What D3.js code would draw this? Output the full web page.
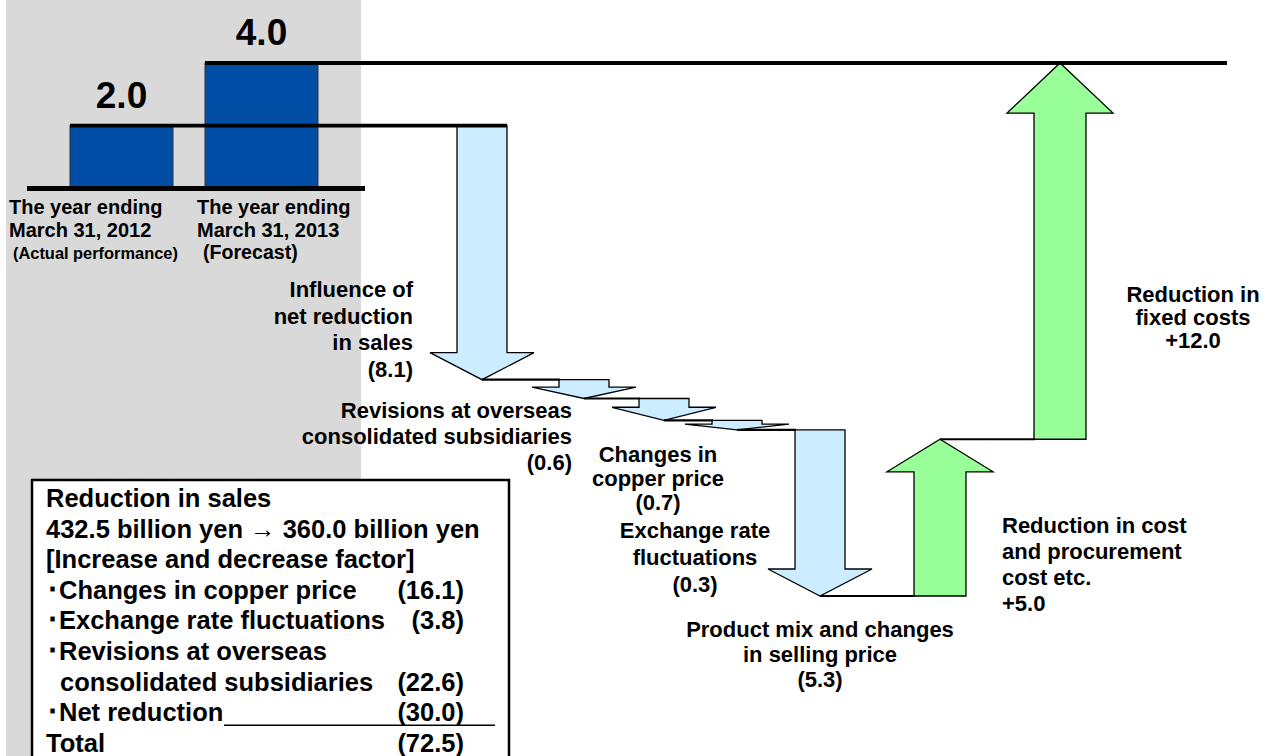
<!DOCTYPE html>
<html><head><meta charset="utf-8">
<script src="https://cdn.jsdelivr.net/npm/d3@7"></script>
<style>
html,body{margin:0;padding:0;background:#fff;}
svg{display:block;}
text{font-family:"Liberation Sans",Arial,sans-serif;font-weight:bold;fill:#000;}
</style></head>
<body>
<svg id="chart" width="1271" height="756"></svg>
<script>
// ---------------- data ----------------
const periods = ["March 31, 2012", "March 31, 2013"];
const periodNotes = ["(Actual performance)", "(Forecast)"];
const periodValues = [2.0, 4.0];

const steps = [
  "Influence of net reduction in sales",
  "Revisions at overseas consolidated subsidiaries",
  "Changes in copper price",
  "Exchange rate fluctuations",
  "Product mix and changes in selling price",
  "Reduction in cost and procurement cost etc.",
  "Reduction in fixed costs"
];
const stepValues = [-8.1, -0.6, -0.7, -0.3, -5.3, 5.0, 12.0];
const stepLabelLines = [
  ["Influence of", "net reduction", "in sales"],
  ["Revisions at overseas", "consolidated subsidiaries"],
  ["Changes in", "copper price"],
  ["Exchange rate", "fluctuations"],
  ["Product mix and changes", "in selling price"],
  ["Reduction in cost", "and procurement", "cost etc."],
  ["Reduction in", "fixed costs"]
];

const salesBefore = 432.5, salesAfter = 360.0;
const salesFactors = ["Changes in copper price", "Exchange rate fluctuations",
  "Revisions at overseas|consolidated subsidiaries", "Net reduction"];
const salesFactorValues = [-16.1, -3.8, -22.6, -30.0];
const salesTotal = -72.5;

// ---------------- layout ----------------
const svg = d3.select("#chart");
const y = d3.scaleLinear().domain([4, -13]).range([63, 596]);
const xStep = d3.scaleOrdinal().domain(steps).range([482, 584, 664, 737, 820, 940, 1060]);
const xBar = d3.scaleOrdinal().domain(periods).range([[70, 173], [205, 318]]);
const fmtNum = d3.format(".1f");
const fmtStep = v => v < 0 ? "(" + fmtNum(-v) + ")" : "+" + fmtNum(v);

const labelLayout = [
  {anchor: "end", x: 413, y: 297, lh: 26.5},
  {anchor: "end", x: 572, y: 418, lh: 26},
  {anchor: "middle", x: 658, y: 462, lh: 24},
  {anchor: "middle", x: 695, y: 538, lh: 27},
  {anchor: "middle", x: 820, y: 637, lh: 25},
  {anchor: "start", x: 1002, y: 533, lh: 26},
  {anchor: "middle", x: 1193, y: 302, lh: 23}
];

// grey panel
svg.append("rect").attr("x", 6).attr("y", 0).attr("width", 355).attr("height", 756).attr("fill", "#d9d9d9");

// bars
periods.forEach((p, i) => {
  const [x0, x1] = xBar(p);
  svg.append("rect").attr("x", x0).attr("y", y(periodValues[i]))
    .attr("width", x1 - x0).attr("height", y(0) - y(periodValues[i]))
    .attr("fill", "#004da6").attr("stroke", "#333").attr("stroke-width", 1);
  svg.append("text").attr("x", (x0 + x1) / 2).attr("y", y(periodValues[i]) - 18)
    .attr("text-anchor", "middle").style("font-size", "37px").text(fmtNum(periodValues[i]));
});

// period labels
const periodLabelX = [9, 197];
periods.forEach((p, i) => {
  svg.append("text").attr("x", periodLabelX[i]).attr("y", 213.5).style("font-size", "20px").text("The year ending");
  svg.append("text").attr("x", periodLabelX[i]).attr("y", 237).style("font-size", "20px").text(p);
  svg.append("text").attr("x", periodLabelX[i] + (i === 0 ? 4 : 6)).attr("y", 259)
    .style("font-size", i === 0 ? "16.4px" : "19.6px").text(periodNotes[i]);
});

// waterfall arrows
let cum = periodValues[0];
const arrows = stepValues.map((v, i) => {
  const a = {name: steps[i], from: cum, to: cum + v, v: v, cx: xStep(steps[i])};
  cum += v;
  return a;
});

function arrowPath(a) {
  const down = a.v < 0;
  const sw = down ? 50 : 52, hw = down ? 104 : 106;
  const y0 = y(a.from), y1 = y(a.to);
  const len = Math.abs(y1 - y0);
  const hh = down ? Math.min(27, len * 0.6) : 20 + len * 0.08;
  const yb = down ? y1 - hh : y1 + hh;
  const c = a.cx;
  return `M${c - sw / 2},${y0}L${c + sw / 2},${y0}L${c + sw / 2},${yb}L${c + hw / 2},${yb}L${c},${y1}L${c - hw / 2},${yb}L${c - sw / 2},${yb}Z`;
}

svg.selectAll("path.arrow").data(arrows).join("path").attr("class", "arrow")
  .attr("d", arrowPath)
  .attr("fill", d => d.v < 0 ? "#ccecff" : "#99ff99")
  .attr("stroke", "#000").attr("stroke-width", 1.3).attr("stroke-linejoin", "miter");

// connectors between arrows
arrows.forEach((a, i) => {
  if (i === arrows.length - 1) return;
  const n = arrows[i + 1];
  const sw = n.v < 0 ? 50 : 52;
  svg.append("line").attr("x1", a.cx).attr("x2", n.cx - sw / 2 + 1)
    .attr("y1", y(a.to)).attr("y2", y(a.to)).attr("stroke", "#000").attr("stroke-width", 2.2);
});

// start level line, end level line, baseline
svg.append("line").attr("x1", xBar(periods[0])[0]).attr("x2", arrows[0].cx + 25)
  .attr("y1", y(periodValues[0])).attr("y2", y(periodValues[0])).attr("stroke", "#000").attr("stroke-width", 3.8);
svg.append("line").attr("x1", xBar(periods[1])[0]).attr("x2", 1227)
  .attr("y1", y(periodValues[1])).attr("y2", y(periodValues[1])).attr("stroke", "#000").attr("stroke-width", 3.8);
svg.append("line").attr("x1", 27).attr("x2", 365)
  .attr("y1", y(0)).attr("y2", y(0)).attr("stroke", "#000").attr("stroke-width", 5);

// step labels
arrows.forEach((a, i) => {
  const L = labelLayout[i];
  const lines = stepLabelLines[i].concat([fmtStep(a.v)]);
  lines.forEach((t, j) => {
    svg.append("text").attr("x", L.x).attr("y", L.y + j * L.lh)
      .attr("text-anchor", L.anchor).style("font-size", "22px").text(t);
  });
});

// info box
svg.append("rect").attr("x", 32).attr("y", 480).attr("width", 477).attr("height", 300)
  .attr("fill", "#fff").attr("stroke", "#000").attr("stroke-width", 2.5);
const bfs = "25.5px", bx = 46, numX = 464, lh = 30.6;
let by = 507;
const boxText = (x, yy, t, anchor) => svg.append("text").attr("x", x).attr("y", yy)
  .attr("text-anchor", anchor || "start").style("font-size", bfs).text(t);
boxText(bx, by, "Reduction in sales"); by += lh;
boxText(bx, by, fmtNum(salesBefore) + " billion yen \u2192 " + fmtNum(salesAfter) + " billion yen"); by += lh;
boxText(bx, by, "[Increase and decrease factor]"); by += lh;
salesFactors.forEach((f, i) => {
  const parts = f.split("|");
  parts.forEach((p, j) => {
    const t = svg.append("text").attr("y", by).style("font-size", bfs);
    if (j === 0) {
      t.attr("x", 46).text("\uff65" + p);
    } else {
      t.attr("x", 60).text(p);
    }
    if (j < parts.length - 1) by += lh;
  });
  boxText(numX, by, "(" + fmtNum(-salesFactorValues[i]) + ")", "end");
  if (i === salesFactors.length - 1) {
    svg.append("line").attr("x1", 224).attr("x2", 495).attr("y1", by + 4).attr("y2", by + 4)
      .attr("stroke", "#000").attr("stroke-width", 1.6);
  }
  by += lh;
});
boxText(bx, by, "Total");
boxText(numX, by, "(" + fmtNum(-salesTotal) + ")", "end");
</script>
</body></html>
